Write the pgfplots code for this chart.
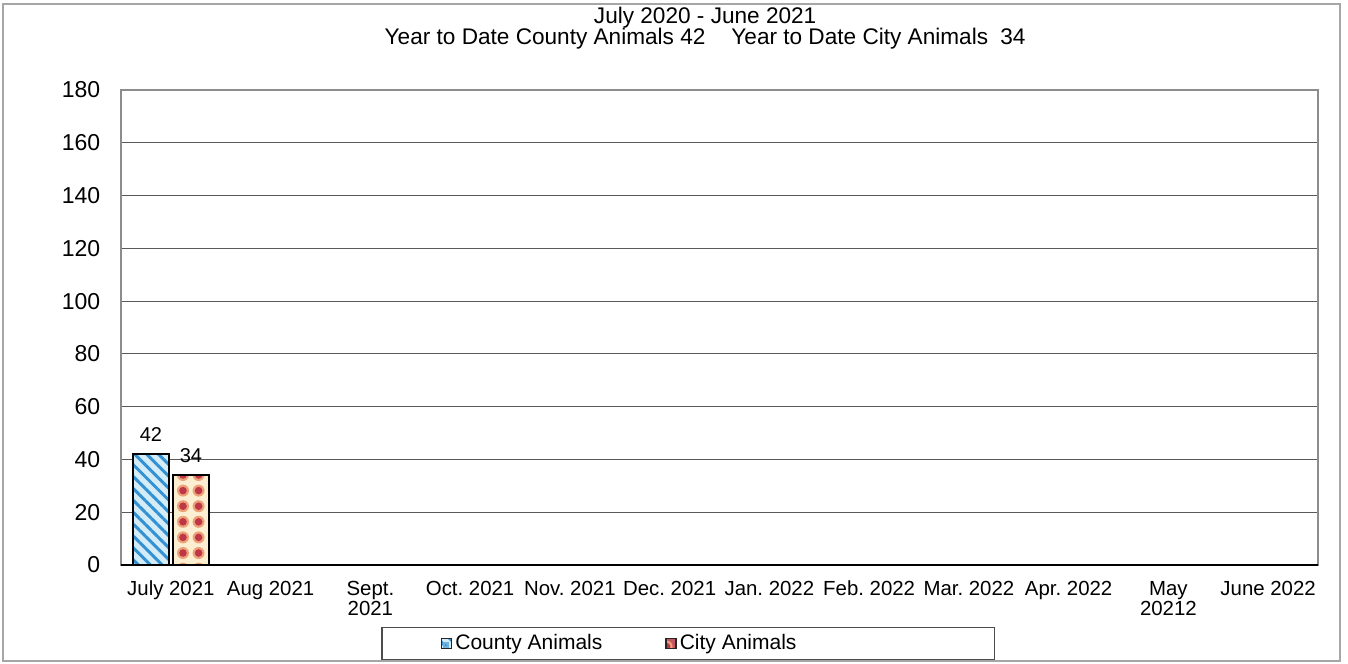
\documentclass[border=0pt]{standalone}
\usepackage{fontspec}
\setmainfont{Liberation Sans}
\usepackage{pgfplots}
\pgfplotsset{compat=1.18}
\usetikzlibrary{patterns.meta}
\definecolor{countyfill}{RGB}{212,235,248}
\definecolor{countyline}{RGB}{50,145,210}
\definecolor{cityfill}{RGB}{252,238,208}
\definecolor{cityhalo}{RGB}{238,160,120}
\definecolor{citydot}{RGB}{190,55,70}
\definecolor{gridc}{RGB}{90,90,90}
\newcommand{\st}{\rule{0pt}{8bp}}
\begin{document}
\frenchspacing
\begin{tikzpicture}
\fontsize{10.5bp}{11bp}\selectfont
\path[use as bounding box] (0,0) rectangle (674bp,332bp);
\draw[black!35, line width=0.8bp] (1.5bp,1.5bp) rectangle (670bp,330bp);
\begin{axis}[
  at={(60.5bp,49.5bp)}, anchor=south west,
  scale only axis, width=598.5bp, height=237.5bp,
  ybar=2bp, bar width=18bp,
  xmin=-0.5, xmax=11.5, ymin=0, ymax=180,
  ytick={0,20,...,180},
  xtick={0,...,11},
  xticklabels={\st July 2021, \st Aug 2021, {\st Sept.\\2021}, \st Oct. 2021, \st Nov. 2021, \st Dec. 2021, \st Jan. 2022, \st Feb. 2022, \st Mar. 2022, \st Apr. 2022, {\st May\\20212}, \st June 2022},
  xticklabel style={align=center, font=\fontsize{10.2bp}{10bp}\selectfont, yshift=-3.5bp},
  yticklabel style={font=\fontsize{11.5bp}{12bp}\selectfont, xshift=-6.7bp},
  /pgf/number format/assume math mode=true,
  major tick length=0pt,
  ymajorgrids, grid style={gridc, line width=0.6bp},
  axis line style={black!45, line width=0.6bp},
  extra y ticks={0}, extra y tick labels={},
  extra y tick style={grid style={black, line width=1.1bp}},
  clip=false,
  nodes near coords,
  every node near coord/.append style={font=\fontsize{10bp}{11bp}\selectfont, text=black, yshift=2.5bp},
  legend columns=2,
  legend style={at={(axis description cs:0.474,-0.1656)}, anchor=center,
    draw=black!70, line width=0.6bp, inner xsep=29.5bp, inner ysep=2bp,
    font=\fontsize{10.5bp}{11bp}\selectfont,
    nodes={inner xsep=0pt, inner ysep=1.5bp},
    /tikz/every odd column/.append style={column sep=1.5bp},
    /tikz/every even column/.append style={column sep=31.5bp}},
]
\addplot[draw=black, line width=1bp, fill=countyfill,
  postaction={pattern={Lines[angle=-45,distance=4.2bp,line width=1.5bp]}, pattern color=countyline},
  legend image code/.code={\draw[black!85, line width=0.7bp, fill=countyfill] (0bp,-2.5bp) rectangle (5bp,2.5bp);
     \fill[countyline!70] (1bp,-1.5bp) rectangle (3bp,0.5bp);}]
  coordinates {(0,42)};
\addlegendentry{County Animals}
\addplot[draw=black, line width=1bp, fill=cityfill,
  postaction={pattern={Dots[distance=7.8bp,radius=3bp,xshift=5.7bp,yshift=0.9bp]}, pattern color=cityhalo},
  postaction={pattern={Dots[distance=7.8bp,radius=1.9bp,xshift=5.7bp,yshift=0.9bp]}, pattern color=citydot},
  legend image code/.code={\draw[black!85, line width=0.7bp, fill=citydot!85] (0bp,-2.5bp) rectangle (5bp,2.5bp);}]
  coordinates {(0,34)};
\addlegendentry{\makebox[128bp][l]{City Animals}}
\node[anchor=center, font=\fontsize{11.3bp}{12bp}\selectfont] at (axis description cs:0.488,1) [yshift=36bp] {July 2020 - June 2021};
\node[anchor=center, font=\fontsize{11.3bp}{12bp}\selectfont] at (axis description cs:0.488,1) [yshift=25.5bp] {Year to Date County Animals 42\hspace{13bp}Year to Date City Animals\hspace{3bp} 34};
\end{axis}
\end{tikzpicture}
\end{document}
